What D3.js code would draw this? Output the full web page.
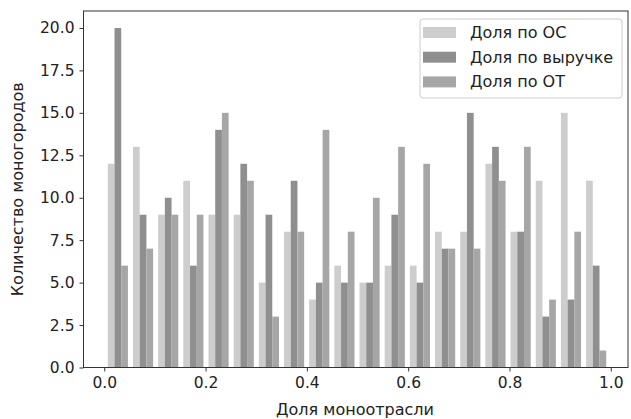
<!DOCTYPE html>
<html>
<head>
<meta charset="utf-8">
<script src="https://cdn.jsdelivr.net/npm/d3@7"></script>
<style>
  body { margin: 0; background: #fff; }
  text { font-family: "DejaVu Sans", sans-serif; fill: #222; }
</style>
</head>
<body>
<svg id="chart" width="631" height="419"></svg>
<script>
// histogram counts per bin (20 bins)
var binStart = 0.002
var binWidth = 0.0497
var seriesNames = ["Доля по ОС", "Доля по выручке", "Доля по ОТ"]
var seriesColors = ["#cdcdcd", "#8f8f8f", "#a6a6a6"]
var countsOS = [12, 13, 9, 11, 9, 9, 5, 8, 4, 6, 5, 6, 6, 8, 8, 12, 8, 11, 15, 11]
var countsRevenue = [20, 9, 10, 6, 14, 12, 9, 11, 5, 5, 5, 9, 5, 7, 15, 13, 8, 3, 4, 6]
var countsOT = [6, 7, 9, 9, 15, 11, 3, 8, 14, 8, 10, 13, 12, 7, 7, 11, 13, 4, 8, 1]
var xTicks = [0, 0.2, 0.4, 0.6, 0.8, 1.0]
var yTicks = [0, 2.5, 5, 7.5, 10, 12.5, 15, 17.5, 20]

var series = [countsOS, countsRevenue, countsOT]

var svg = d3.select("#chart")
var margin = { left: 83.5, right: 3, top: 11, bottom: 51.5 }
var width = 631 - margin.left - margin.right
var height = 419 - margin.top - margin.bottom

var x = d3.scaleLinear().domain([-0.041, 1.034]).range([0, width])
var y = d3.scaleLinear().domain([0, 21]).range([height, 0])

var g = svg.append("g").attr("transform", `translate(${margin.left},${margin.top})`)

// bars, matplotlib style: 3 bars share 80% of each bin
var barW = binWidth * 0.8 / 3
series.forEach((counts, s) => {
  g.append("g")
    .selectAll("rect")
    .data(counts)
    .enter().append("rect")
    .attr("x", (d, i) => x(binStart + i * binWidth + binWidth * 0.1 + s * barW))
    .attr("width", x(barW) - x(0))
    .attr("y", d => y(d))
    .attr("height", d => y(0) - y(d))
    .attr("fill", seriesColors[s])
})

// axes
var xAxis = g.append("g")
  .attr("transform", `translate(0,${height})`)
  .call(d3.axisBottom(x).tickValues(xTicks).tickFormat(d3.format(".1f")).tickSize(4).tickPadding(5))
var yAxis = g.append("g")
  .call(d3.axisLeft(y).tickValues(yTicks).tickFormat(d3.format(".1f")).tickSize(4).tickPadding(5))
;[xAxis, yAxis].forEach(a => {
  a.select(".domain").remove()
  a.selectAll("line").attr("stroke", "#333")
  a.selectAll("text").style("font-size", "15.5px").attr("fill", "#222")
})

// frame
g.append("rect")
  .attr("width", width).attr("height", height)
  .attr("fill", "none").attr("stroke", "#333").attr("stroke-width", 1)

// axis labels
svg.append("text")
  .attr("x", 355).attr("y", 415)
  .attr("text-anchor", "middle").style("font-size", "16px")
  .text("Доля моноотрасли")
svg.append("text")
  .attr("transform", `translate(23,${margin.top + height / 2}) rotate(-90)`)
  .attr("text-anchor", "middle").style("font-size", "16px")
  .text("Количество моногородов")

// legend
var legend = svg.append("g").attr("transform", "translate(420,19)")
legend.append("rect")
  .attr("width", 202).attr("height", 79).attr("rx", 3)
  .attr("fill", "#fff").attr("fill-opacity", 0.8)
  .attr("stroke", "#ccc")
seriesNames.forEach((name, i) => {
  var row = legend.append("g").attr("transform", `translate(0,${13.5 + i * 24.7})`)
  row.append("rect")
    .attr("x", 3).attr("y", -5.5).attr("width", 33).attr("height", 11)
    .attr("fill", seriesColors[i])
  row.append("text")
    .attr("x", 50).attr("y", 5.5)
    .style("font-size", "16px")
    .text(name)
})
</script>
</body>
</html>
